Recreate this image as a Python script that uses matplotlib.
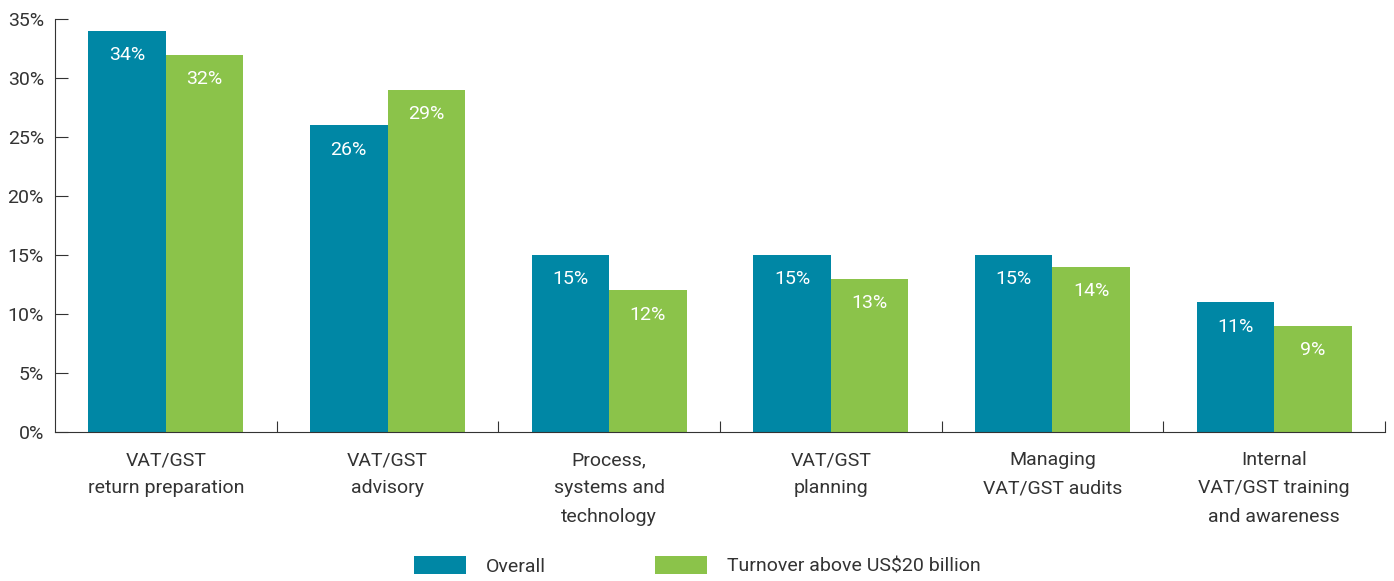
import numpy as np
import matplotlib
matplotlib.use('Agg')
import matplotlib.pyplot as plt

plt.rcParams['font.family'] = ['Roboto', 'DejaVu Sans']
plt.rcParams['font.stretch'] = 'condensed'

categories = ['VAT/GST\nreturn preparation', 'VAT/GST\nadvisory', 'Process,\nsystems and\ntechnology',
              'VAT/GST\nplanning', 'Managing\nVAT/GST audits', 'Internal\nVAT/GST training\nand awareness']
overall = [34, 26, 15, 15, 15, 11]
large = [32, 29, 12, 13, 14, 9]
series_names = ['Overall', 'Turnover above US$20 billion']

blue = '#0087a5'
green = '#8bc34a'
txt = '#333333'

fig = plt.figure(figsize=(13.94, 5.81), dpi=100)
ax = fig.add_axes([0.0395, 0.2565, 0.954, 0.7105])

x = np.arange(len(categories))
w = 0.35
b1 = ax.bar(x - w/2, overall, w, color=blue, label=series_names[0])
b2 = ax.bar(x + w/2, large, w, color=green, label=series_names[1])

for bars in (b1, b2):
    for r in bars:
        ax.annotate('%d%%' % r.get_height(), (r.get_x() + r.get_width()/2, r.get_height()),
                    xytext=(0, -17.5), textcoords='offset points', ha='center', va='center',
                    color='white', fontsize=14)

ax.set_xlim(-0.5, 5.5)
ax.set_ylim(0, 35)
ax.set_yticks(range(0, 36, 5))
ax.set_yticklabels(['%d%%' % v for v in range(0, 36, 5)])
ax.set_xticks(np.arange(0.5, 6, 1))
ax.set_xticklabels([])
ax.set_xticks(x, minor=True)
ax.set_xticklabels(categories, minor=True, linespacing=1.72)
ax.tick_params(axis='x', which='major', direction='in', length=8, color=txt)
ax.tick_params(axis='x', which='minor', length=0, pad=14, labelsize=14, labelcolor=txt)
ax.tick_params(axis='y', direction='in', length=9, color=txt, labelsize=14, labelcolor=txt, pad=8)

for s in ['top', 'right']:
    ax.spines[s].set_visible(False)
for s in ['left', 'bottom']:
    ax.spines[s].set_color(txt)

fig.legend(loc='center', bbox_to_anchor=(0.5, 0.026), ncol=2, frameon=False, fontsize=14,
           handlelength=2.7, handleheight=1.0, handletextpad=1.0, columnspacing=5.6,
           labelcolor=txt)

fig.savefig('out.png', dpi=100)
